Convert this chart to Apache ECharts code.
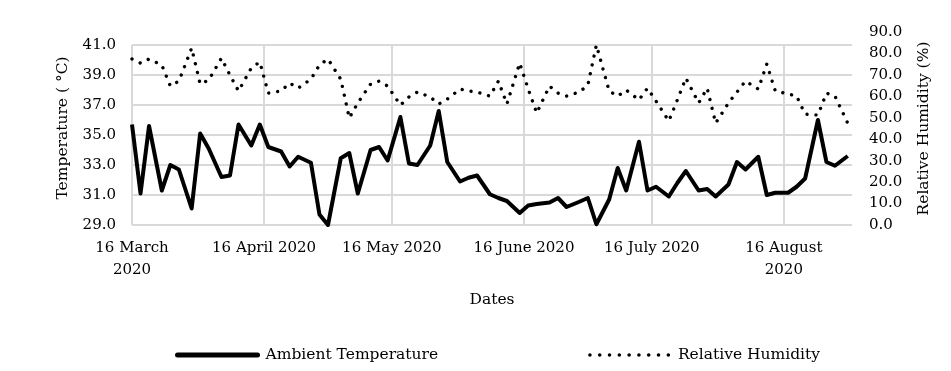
<!DOCTYPE html>
<html>
<head>
<meta charset="utf-8">
<script src="https://cdn.jsdelivr.net/npm/echarts@6/dist/echarts.min.js"></script>
<style>
html,body{margin:0;padding:0;background:#ffffff;}
#chart{width:951px;height:371px;}
</style>
</head>
<body>
<div id="chart"></div>
<script>
// Measurement dates (Mon / Wed / Fri)
const dates = [
  '2020-03-16','2020-03-18','2020-03-20','2020-03-23','2020-03-25','2020-03-27',
  '2020-03-30','2020-04-01','2020-04-03','2020-04-06','2020-04-08','2020-04-10',
  '2020-04-13','2020-04-15','2020-04-17','2020-04-20','2020-04-22','2020-04-24',
  '2020-04-27','2020-04-29','2020-05-01','2020-05-04','2020-05-06','2020-05-08',
  '2020-05-11','2020-05-13','2020-05-15','2020-05-18','2020-05-20','2020-05-22',
  '2020-05-25','2020-05-27','2020-05-29','2020-06-01','2020-06-03','2020-06-05',
  '2020-06-08','2020-06-10','2020-06-12','2020-06-15','2020-06-17','2020-06-19',
  '2020-06-22','2020-06-24','2020-06-26','2020-06-29','2020-07-01','2020-07-03',
  '2020-07-06','2020-07-08','2020-07-10','2020-07-13','2020-07-15','2020-07-17',
  '2020-07-20','2020-07-22','2020-07-24','2020-07-27','2020-07-29','2020-07-31',
  '2020-08-03','2020-08-05','2020-08-07','2020-08-10','2020-08-12','2020-08-14',
  '2020-08-17','2020-08-19','2020-08-21','2020-08-24','2020-08-26','2020-08-28',
  '2020-08-31'
];

// Ambient temperature (°C)
const temperature = [
  35.7, 31.1, 35.6, 31.3, 33.0, 32.7,
  30.1, 35.1, 34.1, 32.2, 32.3, 35.7,
  34.3, 35.7, 34.2, 33.9, 32.9, 33.55,
  33.15, 29.7, 29.0, 33.45, 33.8, 31.1,
  34.0, 34.2, 33.3, 36.2, 33.1, 33.0,
  34.3, 36.6, 33.2, 31.9, 32.15, 32.3,
  31.05, 30.8, 30.6, 29.8, 30.3, 30.4,
  30.5, 30.8, 30.2, 30.55, 30.8, 29.05,
  30.7, 32.8, 31.3, 34.55, 31.3, 31.55,
  30.9, 31.8, 32.6, 31.3, 31.4, 30.9,
  31.7, 33.2, 32.7, 33.55, 31.0, 31.15,
  31.15, 31.55, 32.1, 36.0, 33.2, 32.95,
  33.6
];

// Relative humidity (%)
const humidity = [
  77.4, 75.5, 77.4, 74.6, 64.8, 67.1,
  82.5, 65.7, 67.6, 77.8, 69.9, 62.5,
  73.2, 76.0, 61.5, 62.5, 66.2, 63.8,
  68.0, 74.6, 77.4, 68.0, 49.9, 56.9,
  65.7, 67.1, 64.8, 55.9, 59.7, 62.0,
  59.7, 56.4, 58.7, 63.4, 62.5, 62.0,
  60.1, 67.1, 56.4, 75.5, 63.4, 52.2,
  64.8, 61.5, 60.1, 62.0, 65.2, 83.9,
  62.5, 60.1, 62.9, 58.3, 63.8, 57.8,
  48.5, 58.3, 68.5, 56.9, 63.8, 47.5,
  56.9, 62.0, 67.1, 63.4, 75.0, 62.5,
  61.1, 60.1, 51.7, 51.3, 61.5, 60.1,
  47.5
];

// X axis tick dates and their labels
const tickDates = ['2020-03-16','2020-04-16','2020-05-16','2020-06-16','2020-07-16','2020-08-16'];
const tickLabels = ['16 March\n2020','16 April 2020','16 May 2020','16 June 2020','16 July 2020','16 August\n2020'];
const xEndDate = '2020-09-01';

// Y axes
const tempAxis = {min: 29, max: 41, step: 2};
const humAxis = {min: 0, max: 90, step: 10};

const FONT = 'DejaVu Serif';
const t0 = Date.parse(dates[0]);
const dayOf = s => Math.round((Date.parse(s) - t0) / 86400000);
const tickDays = tickDates.map(dayOf);
const xMax = dayOf(xEndDate);

const gridColor = '#d9d9d9';
const txt = {color: '#000', fontFamily: FONT, fontSize: 15};
const dotStyle = {color: '#000', width: 3.4, type: [0.001, 9], cap: 'round'};

const chart = echarts.init(document.getElementById('chart'), null, {renderer: 'canvas'});
chart.setOption({
  animation: false,
  backgroundColor: '#ffffff',
  textStyle: {fontFamily: FONT, color: '#000'},
  grid: [
    {left: 132, right: 99, top: 45, bottom: 146, outerBoundsMode: 'none'},
    {left: 132, right: 99, top: 32, bottom: 146, outerBoundsMode: 'none'}
  ],
  xAxis: [
    {
      type: 'value', gridIndex: 0, min: 0, max: xMax,
      axisLine: {show: false},
      axisTick: {show: false, customValues: tickDays},
      axisLabel: Object.assign({
        customValues: tickDays,
        margin: 12, lineHeight: 22,
        formatter: v => { const i = tickDays.indexOf(v); return i >= 0 ? tickLabels[i] : ''; }
      }, txt),
      splitLine: {show: true, lineStyle: {color: gridColor, width: 2}},
      name: 'Dates', nameLocation: 'middle', nameGap: 67,
      nameTextStyle: Object.assign({}, txt, {fontSize: 15.5})
    },
    {
      type: 'value', gridIndex: 1, min: 0, max: xMax, show: false
    }
  ],
  yAxis: [
    {
      type: 'value', gridIndex: 0, position: 'left',
      min: tempAxis.min, max: tempAxis.max, interval: tempAxis.step,
      axisLine: {show: false}, axisTick: {show: false},
      axisLabel: Object.assign({margin: 16, formatter: v => v.toFixed(1)}, txt),
      splitLine: {show: true, lineStyle: {color: gridColor, width: 2}},
      name: 'Temperature ( °C)', nameLocation: 'middle', nameGap: 61,
      nameTextStyle: Object.assign({}, txt, {fontSize: 15.5, padding: [0, 0, 0, 14]})
    },
    {
      type: 'value', gridIndex: 1, position: 'right',
      min: humAxis.min, max: humAxis.max, interval: humAxis.step,
      axisLine: {show: false}, axisTick: {show: false},
      axisLabel: Object.assign({margin: 17, formatter: v => v.toFixed(1)}, txt),
      splitLine: {show: false},
      name: 'Relative Humidity (%)', nameLocation: 'middle', nameGap: 64,
      nameTextStyle: Object.assign({}, txt, {fontSize: 15.5})
    }
  ],
  legend: {
    left: 170, top: 342, itemWidth: 80, itemHeight: 14, itemGap: 150,
    textStyle: Object.assign({}, txt, {fontSize: 15.5, padding: [0, 0, 0, 3]}),
    data: [
      {name: 'Ambient Temperature', itemStyle: {opacity: 0},
       lineStyle: {color: '#000', width: 5, type: 'solid', cap: 'round'}},
      {name: 'Relative Humidity', itemStyle: {opacity: 0},
       lineStyle: {color: '#000', width: 3.6, type: [0.001, 9.8], cap: 'round'}}
    ]
  },
  series: [
    {
      name: 'Ambient Temperature', type: 'line', xAxisIndex: 0, yAxisIndex: 0,
      data: dates.map((d, i) => [dayOf(d), temperature[i]]),
      symbol: 'none', showSymbol: false, z: 3,
      itemStyle: {color: '#000'},
      lineStyle: {color: '#000', width: 4, join: 'round'}
    },
    {
      name: 'Relative Humidity', type: 'line', xAxisIndex: 1, yAxisIndex: 1,
      data: dates.map((d, i) => [dayOf(d), humidity[i]]),
      symbol: 'none', showSymbol: false, z: 2,
      itemStyle: {color: '#000'},
      lineStyle: dotStyle
    }
  ]
});
</script>
</body>
</html>
